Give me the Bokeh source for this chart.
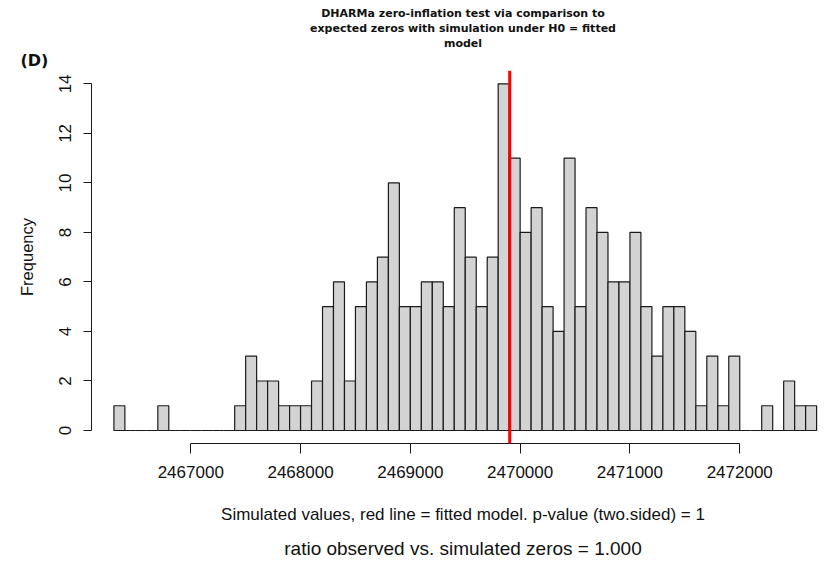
from bokeh.plotting import figure
from bokeh.models import (Range1d, FixedTicker, BasicTickFormatter, Span, Title,
                          ColumnDataSource, LinearAxis)
from bokeh.embed import file_html
from bokeh.resources import INLINE

# ---- data ----
break_start = 2466300
bin_width = 100
counts = [1, 0, 0, 0, 1, 0, 0, 0, 0, 0, 0, 1, 3, 2, 2, 1, 1, 1, 2, 5, 6, 2,
          5, 6, 7, 10, 5, 5, 6, 6, 5, 9, 7, 5, 7, 14, 11, 8, 9, 5, 4, 11, 5,
          9, 8, 6, 6, 8, 5, 3, 5, 5, 4, 1, 3, 1, 3, 0, 0, 1, 0, 2, 1, 1]
observed = 2469905
x_ticks = [2467000, 2468000, 2469000, 2470000, 2471000, 2472000]
y_ticks = [0, 2, 4, 6, 8, 10, 12, 14]

title_lines = ["DHARMa zero-inflation test via comparison to",
               "expected zeros with simulation under H0 = fitted",
               "model"]
x_label = "Simulated values, red line = fitted model. p-value (two.sided) = 1"
y_label = "Frequency"
sub_label = "ratio observed vs. simulated zeros = 1.000"
panel_tag = "(D)"

lefts = [break_start + i * bin_width for i in range(len(counts))]
rights = [l + bin_width for l in lefts]
src = ColumnDataSource(dict(left=lefts, right=rights, top=counts, bottom=[0] * len(counts)))

# ---- geometry ----
W, H = 834, 563
ML, MR, MT, MB = 91, 0, 70, 120
X0, X1 = 2466096, 2472863
Y0, Y1 = -0.525, 14.54
FONT = "Liberation Sans"
INK = "#111111"

p = figure(width=W, height=H, output_backend="svg", toolbar_location=None,
           x_range=Range1d(X0, X1), y_range=Range1d(Y0, Y1),
           min_border_left=ML, min_border_right=MR, min_border_top=MT,
           min_border_bottom=MB, x_axis_location=None, y_axis_location=None)
p.outline_line_color = None
p.xgrid.visible = False
p.ygrid.visible = False
p.background_fill_color = "white"
p.border_fill_color = "white"

p.quad(left="left", right="right", top="top", bottom="bottom", source=src,
       fill_color="#d3d3d3", line_color="#1a1a1a", line_width=1.2)

p.add_layout(Span(location=observed, dimension="height", line_color="#ff0000", line_width=3))

xa = LinearAxis(ticker=FixedTicker(ticks=x_ticks), bounds=(x_ticks[0], x_ticks[-1]),
                formatter=BasicTickFormatter(use_scientific=False))
xa.major_tick_out = 10
xa.major_tick_in = 0
xa.minor_tick_out = 0
xa.minor_tick_in = 0
xa.major_label_standoff = 12
xa.major_label_text_font = FONT
xa.major_label_text_font_size = "17px"
xa.major_label_text_color = INK
xa.axis_line_color = "#1a1a1a"
xa.major_tick_line_color = "#1a1a1a"
xa.axis_label = x_label
xa.axis_label_standoff = 24
xa.axis_label_text_font = FONT
xa.axis_label_text_font_style = "normal"
xa.axis_label_text_font_size = "17px"
xa.axis_label_text_color = INK
p.add_layout(xa, "below")

# second, bare axis below: carries only the ratio line as its label
xa2 = LinearAxis(ticker=FixedTicker(ticks=[]))
xa2.axis_line_color = None
xa2.major_tick_out = 0
xa2.major_tick_in = 0
xa2.minor_tick_out = 0
xa2.minor_tick_in = 0
xa2.major_label_standoff = 0
xa2.axis_label = sub_label
xa2.axis_label_standoff = 11
xa2.axis_label_text_font = FONT
xa2.axis_label_text_font_style = "normal"
xa2.axis_label_text_font_size = "19px"
xa2.axis_label_text_color = INK
p.add_layout(xa2, "below")

ya = LinearAxis(ticker=FixedTicker(ticks=y_ticks), bounds=(y_ticks[0], y_ticks[-1]))
ya.major_tick_out = 8
ya.major_tick_in = 0
ya.minor_tick_out = 0
ya.minor_tick_in = 0
ya.major_label_standoff = 12
ya.major_label_orientation = "vertical"
ya.major_label_text_font = FONT
ya.major_label_text_font_size = "17px"
ya.major_label_text_color = INK
ya.axis_line_color = "#1a1a1a"
ya.major_tick_line_color = "#1a1a1a"
ya.axis_label = y_label
ya.axis_label_standoff = 21
ya.axis_label_text_font = FONT
ya.axis_label_text_font_style = "normal"
ya.axis_label_text_font_size = "16.5px"
ya.axis_label_text_color = INK
p.add_layout(ya, "left")

# panel tag (nearest to the frame), then the title lines going upward
p.add_layout(Title(text=panel_tag, align="left", offset=-71, vertical_align="middle",
                   text_font="DejaVu Sans", text_font_style="bold", text_font_size="16px",
                   text_color=INK, standoff=0), "above")
for t in reversed(title_lines):
    p.add_layout(Title(text=t, align="center", text_font="DejaVu Sans",
                       text_font_style="bold", text_font_size="11px", text_color=INK,
                       standoff=0), "above")

open("out.html", "w").write(file_html(p, INLINE))
